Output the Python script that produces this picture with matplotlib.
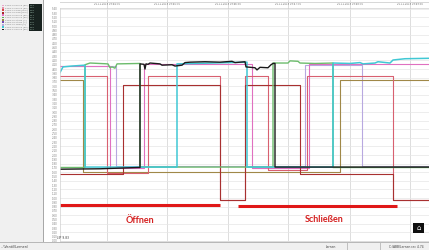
import matplotlib
matplotlib.use("Agg")
import matplotlib.pyplot as plt
from matplotlib.patches import Rectangle
from matplotlib.ticker import FuncFormatter
import numpy as np

W, H = 429, 250

# time axis in seconds, values in measurement units
grid_times = [47, 107, 168, 228, 290, 350]
header_labels = ["20.11.2019 09:44:30", "20.11.2019 09:45:30", "20.11.2019 09:46:30",
                 "20.11.2019 09:47:30", "20.11.2019 09:48:30", "20.11.2019 09:49:30"]

legend_colors = ["#e8a8cc", "#e890a8", "#d84848", "#a82828", "#e070c0", "#58b058",
                 "#9a8a40", "#7848b0", "#b8a8e0", "#40c8d0", "#202020"]
legend_names = ["Kanal 01 Druck [bar]", "Kanal 02 Druck [bar]", "Kanal 03 Weg [mm]",
                "Kanal 04 Weg [mm]", "Kanal 05 Druck [bar]", "Kanal 06 Druck [bar]",
                "Kanal 07 Strom [A]", "Kanal 08 Strom [A]", "Kanal 09 Temp [C]",
                "Kanal 10 Druck [bar]", "Kanal 11 Druck [bar]"]
legend_values = ["4.12", "4.10", "1.56", "0.95", "4.11", "1.72", "3.74", "1.70", "1.74", "4.25", "1.72"]

lavender_t = [0, 56, 56, 245, 245, 302, 302, 369]
lavender_v = [408, 408, 174, 174, 410, 410, 174, 174]

pink_t = [0, 50, 50, 84, 84, 192, 192, 249, 249, 369]
pink_v = [408, 408, 170, 170, 411, 411, 170, 170, 412, 412]

olive_t = [0, 23, 23, 280, 280, 369]
olive_v = [374, 374, 160, 160, 374, 374]

rose_t = [0, 47, 47, 88, 88, 160, 160, 185, 185, 208, 208, 247, 247, 333, 333, 369]
rose_v = [384, 384, 158, 158, 384, 384, 95, 95, 384, 384, 166, 166, 384, 384, 95, 95]

darkred_t = [0, 63, 63, 160, 160, 185, 185, 240, 240, 333, 333, 369]
darkred_v = [156, 156, 363, 363, 95, 95, 363, 363, 156, 156, 95, 95]

green_t = [0, 25, 25, 30, 48, 50, 52, 55, 57, 80, 80, 213, 213, 228, 230, 238, 240, 255, 273, 273, 369]
green_v = [171, 171, 410, 414, 412, 403, 405, 402, 412, 413, 172, 172, 414, 414, 419, 418, 414, 413, 414, 171, 171]

cyan_t = [0, 3, 12, 25, 25, 117, 117, 187, 187, 273, 273, 290, 300, 303, 315, 318, 330, 333, 345, 369]
cyan_v = [392, 405, 407, 409, 172, 172, 412, 416, 172, 172, 414, 413, 415, 412, 414, 417, 414, 421, 424, 425]

black_t = [0, 40, 78, 80, 80, 84, 85, 86, 88, 90, 100, 102, 112, 115, 122, 125, 130, 145, 160, 172,
           175, 185, 186, 195, 197, 200, 208, 211, 213, 215, 215, 369]
black_v = [167, 168, 171, 171, 412, 411, 400, 412, 411, 414, 412, 409, 410, 407, 409, 415, 416, 417, 416, 418,
           415, 417, 405, 403, 398, 404, 403, 410, 413, 413, 172, 172]

bar_open_t = [0, 160]
bar_open_v = [84, 84]
bar_close_t = [178, 337]
bar_close_v = [81, 81]

fig = plt.figure(figsize=(W / 100, H / 100), dpi=100)
fig.patch.set_facecolor("white")


def box(x, y, w, h, color, **kw):
    fig.add_artist(Rectangle((x / W, 1 - (y + h) / H), w / W, h / H,
                             transform=fig.transFigure, facecolor=color, edgecolor="none", **kw))


def ftext(x, y, s, **kw):
    fig.text(x / W, 1 - y / H, s, **kw)


# left panel with channel list
box(0, 0, 43, 242, "#f0f0f0")
box(43, 0, 0.6, 242, "#a8a8a8")
box(29, 4, 13, 27, "#18221f")
for i, (c, name, val) in enumerate(zip(legend_colors, legend_names, legend_values)):
    yy = 5.5 + i * 2.4
    box(2, yy - 0.9, 2.4, 1.8, c)
    ftext(5, yy, name, fontsize=1.6, color="#808080", va="center")
    ftext(30, yy, val, fontsize=1.6, color="#a8c8b8", va="center")

# status bar
box(0, 242, W, 8, "#f0f0f0")
box(0, 242, W, 0.6, "#b8b8b8")
box(347, 243, 0.6, 7, "#c0c0c0")
box(380, 243, 0.6, 7, "#c0c0c0")
ftext(1, 246.5, "...\\Ventil\\Lernen\\", fontsize=2.4, color="#404040", va="center")
ftext(331, 246.5, "Lernen", fontsize=2.2, color="#404040", va="center", ha="center")
ftext(406, 246.5, "C:\\ABB\\Lernen.rec 4.74", fontsize=2.2, color="#404040", va="center", ha="center")

# header with time labels
box(60, 2.5, 369, 0.5, "#d8d8d8")
ax = fig.add_axes([60 / W, 9 / H, 369 / W, 233 / H])
ax.set_xlim(0, 369)
ax.set_ylim(0, 542)
for t, lab in zip(grid_times, header_labels):
    ax.text(t, 1 + 3.5 / 233, lab, transform=ax.get_xaxis_transform(), fontsize=1.8,
            color="#707070", ha="center", va="center", clip_on=False)
    ax.axvline(t, color="#d8d8d8", lw=0.6, zorder=0)
    ax.plot([t, t], [1.0, 1 + 8 / 233], transform=ax.get_xaxis_transform(), color="#d0d0d0",
            lw=0.5, clip_on=False)

yt = np.arange(0, 541, 10)
ax.set_yticks(yt)
ax.yaxis.set_major_formatter(FuncFormatter(lambda v, p: f"{v / 100:.2f}"))
ax.tick_params(axis="y", labelsize=1.9, length=0, pad=1.5, labelcolor="#808080")
ax.set_xticks([])
for v in yt[::2]:
    ax.axhline(v, color="#e6e6e6", lw=0.5, zorder=0)
for s in ax.spines.values():
    s.set_color("#d0d0d0")
    s.set_linewidth(0.5)

# channel traces
ax.plot(lavender_t, lavender_v, color="#b8a8e0", lw=0.8)
ax.plot(pink_t, pink_v, color="#e070c0", lw=0.8)
ax.plot(olive_t, olive_v, color="#a08848", lw=0.8)
ax.plot(rose_t, rose_v, color="#d86070", lw=0.8)
ax.plot(darkred_t, darkred_v, color="#a83030", lw=0.8)
ax.plot(green_t, green_v, color="#6cbc6c", lw=1.0)
ax.plot(cyan_t, cyan_v, color="#40c8d4", lw=1.1)
ax.plot(black_t, black_v, color="#1a1a1a", lw=1.0)

# annotation bars and labels
ax.plot(bar_open_t, bar_open_v, color="#e01818", lw=2.2, solid_capstyle="butt")
ax.plot(bar_close_t, bar_close_v, color="#e01818", lw=2.2, solid_capstyle="butt")
ax.text(80, 47, "Öffnen", fontsize=6.5, fontweight="bold", family="Lato", color="#d42020",
        ha="center", va="center")
ax.text(264, 49, "Schließen", fontsize=6.5, fontweight="bold", family="Lato", color="#d42020",
        ha="center", va="center")

ftext(57, 238, "LIP 9.83", fontsize=2.2, color="#404040", va="center")
box(338, 238.5, 90, 0.8, "#a8a8a8")

box(413, 223, 11, 10, "#101010")
ftext(418.5, 228, "\u2302", fontsize=5, color="white", ha="center", va="center")

fig.savefig("out.png", dpi=100)
